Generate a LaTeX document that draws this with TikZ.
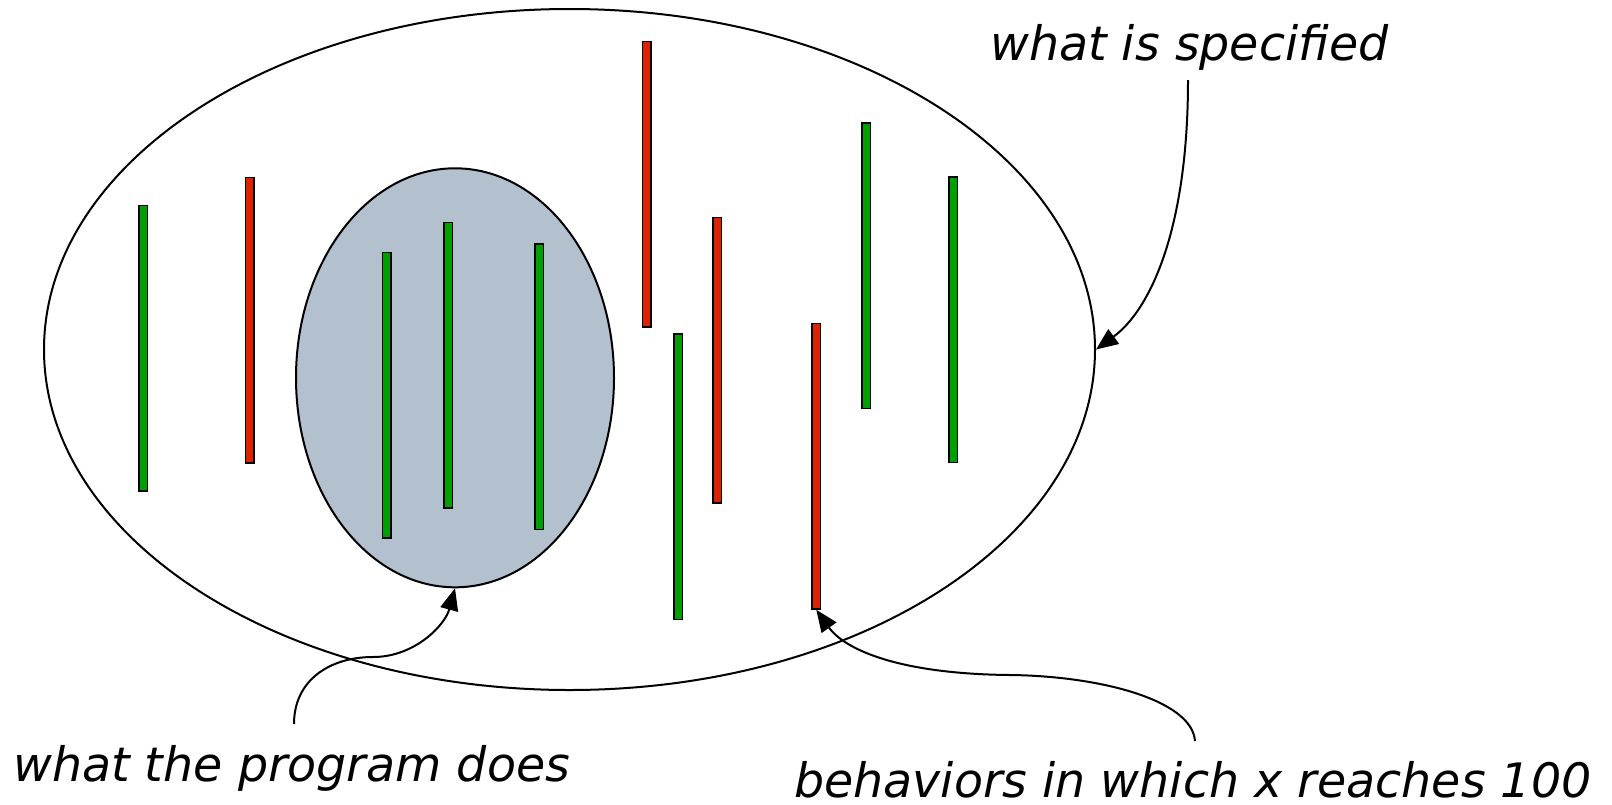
\documentclass[tikz,border=0pt]{standalone}
\usepackage{fontspec}
\setmainfont{DejaVu Sans}
\usetikzlibrary{shapes.geometric,arrows.meta}
\definecolor{barred}{RGB}{221,34,0}
\definecolor{bargreen}{RGB}{0,160,0}
\definecolor{progfill}{RGB}{179,192,206}
\tikzset{
  bar/.style={draw=black, line width=1.5pt, rectangle, inner sep=0pt, minimum width=8.5pt, minimum height=285.5pt},
  gbar/.style={bar, fill=bargreen},
  rbar/.style={bar, fill=barred},
  set/.style={draw=black, line width=2pt, ellipse, inner sep=0pt},
  lbl/.style={anchor=base west, inner sep=0pt, font=\fontsize{47.5}{57}\selectfont\itshape},
  pointer/.style={draw=black, line width=2pt, -{Triangle[length=22pt,width=18pt]}}
}
\begin{document}
\begin{tikzpicture}[x=1pt,y=-1pt]
\useasboundingbox (0,0) rectangle (1612,804);
% sets
\node[set, minimum width=1051pt, minimum height=681pt] (spec) at (569.5,349.5) {};
\node[set, fill=progfill, minimum width=318pt, minimum height=419pt] (prog) at (455,377.8) {};
% behaviours
\node[gbar] (g1) at (143,348) {};
\node[rbar] (r1) at (249.8,320.3) {};
\node[gbar] (g2) at (386.8,395.3) {};
\node[gbar] (g3) at (448.3,365.3) {};
\node[gbar] (g4) at (539.3,386.7) {};
\node[rbar] (r2) at (646.7,184) {};
\node[gbar] (g5) at (678.3,476.7) {};
\node[rbar] (r3) at (717,360) {};
\node[rbar] (r4) at (816.3,466.3) {};
\node[gbar] (g6) at (866,265.7) {};
\node[gbar] (g7) at (953.2,319.5) {};
% labels
\node[lbl] (lspec) at (990,60) {what is specified};
\node[lbl] (lprog) at (13,781) {what the program does};
\node[lbl] (lx) at (794,797) {behaviors in which x reaches 100};
\coordinate (cspec) at (1188,80);
\coordinate (cprog) at (294,724);
\coordinate (cx) at (1195,741);
% pointers
\draw[pointer] (cspec) .. controls (1188,230) and (1150,310) .. (spec.east);
\draw[pointer] (cprog) .. controls (294,680) and (330,657) .. (373,657) .. controls (415,657) and (445,625) .. (prog.south);
\draw[pointer] (cx) .. controls (1192,700) and (1100,676) .. (1010,675) .. controls (900,674) and (845,650) .. (r4.south);
\end{tikzpicture}
\end{document}
